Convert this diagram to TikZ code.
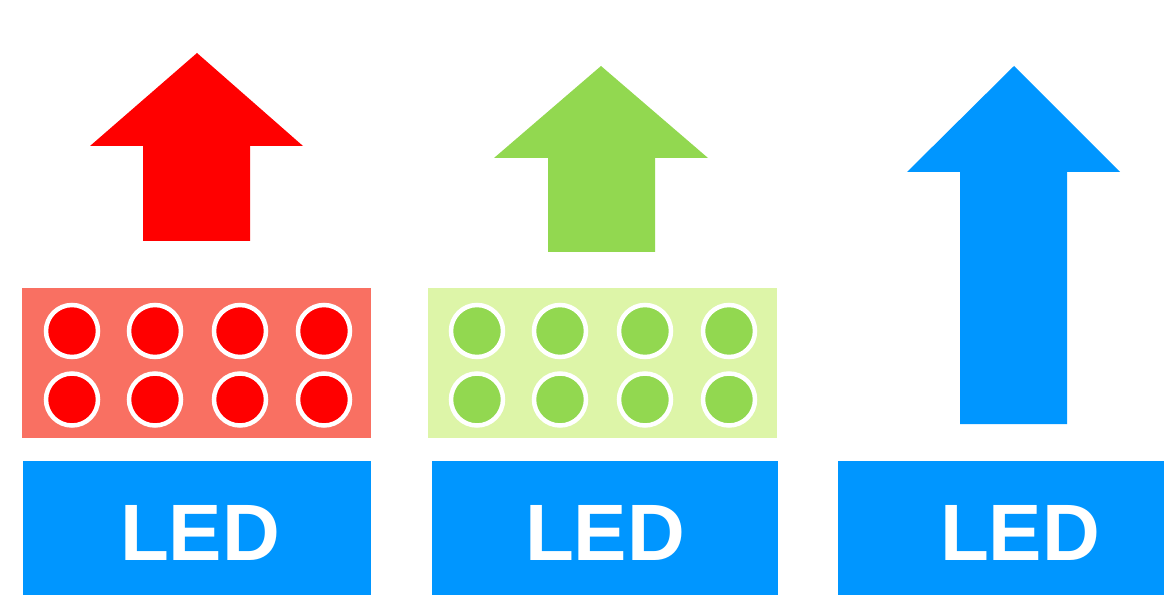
\documentclass[tikz,border=0pt]{standalone}
\usepackage{fontspec}
\setmainfont{Liberation Sans}
\definecolor{ledblue}{RGB}{0,150,255}
\definecolor{arrred}{RGB}{255,0,0}
\definecolor{arrgreen}{RGB}{146,216,80}
\definecolor{panelred}{RGB}{249,112,98}
\definecolor{panelgreen}{RGB}{221,245,168}
\begin{document}
\begin{tikzpicture}[x=1pt,y=1pt,
  ledbox/.style={fill=ledblue,draw=none,inner sep=0pt,outer sep=0pt},
  ledtext/.style={text=white,font=\bfseries\fontsize{80}{80}\selectfont,anchor=base,inner sep=0pt},
  panelbox/.style={draw=none,inner sep=0pt,outer sep=0pt},
  dot/.style={circle,draw=white,line width=4.5pt,minimum size=52pt,inner sep=0pt}]
\useasboundingbox (0,0) rectangle (1164,595);
\fill[white] (0,0) rectangle (1164,595);
% arrows
\fill[arrred] (197,542) -- (303,449) -- (250,449) -- (250,354) -- (143,354) -- (143,449) -- (90,449) -- cycle;
\fill[arrgreen] (601,529) -- (708,437) -- (655,437) -- (655,343) -- (548,343) -- (548,437) -- (494,437) -- cycle;
\fill[ledblue] (1014,529) -- (1120,423) -- (1067,423) -- (1067,171) -- (960,171) -- (960,423) -- (907,423) -- cycle;
% panels
\node[panelbox,fill=panelred,minimum width=349pt,minimum height=150pt] (pr) at (196.5,232) {};
\node[panelbox,fill=panelgreen,minimum width=349pt,minimum height=150pt] (pg) at (602.5,232) {};
\foreach \x [count=\i] in {72,155,240,324}{
  \node[dot,fill=arrred] (r1\i) at (\x,264) {};
  \node[dot,fill=arrred] (r2\i) at (\x,195.5) {};
}
\foreach \x [count=\i] in {477,560,645,729}{
  \node[dot,fill=arrgreen] (g1\i) at (\x,264) {};
  \node[dot,fill=arrgreen] (g2\i) at (\x,195.5) {};
}
% LED boxes
\node[ledbox,minimum width=348pt,minimum height=134pt] (l1) at (197,67) {};
\node[ledbox,minimum width=346pt,minimum height=134pt] (l2) at (605,67) {};
\node[ledbox,minimum width=326pt,minimum height=134pt] (l3) at (1001,67) {};
\node[ledtext] (t1) at (200,35) {LED};
\node[ledtext] (t2) at (605,35) {LED};
\node[ledtext] (t3) at (1020,35) {LED};
\end{tikzpicture}
\end{document}
